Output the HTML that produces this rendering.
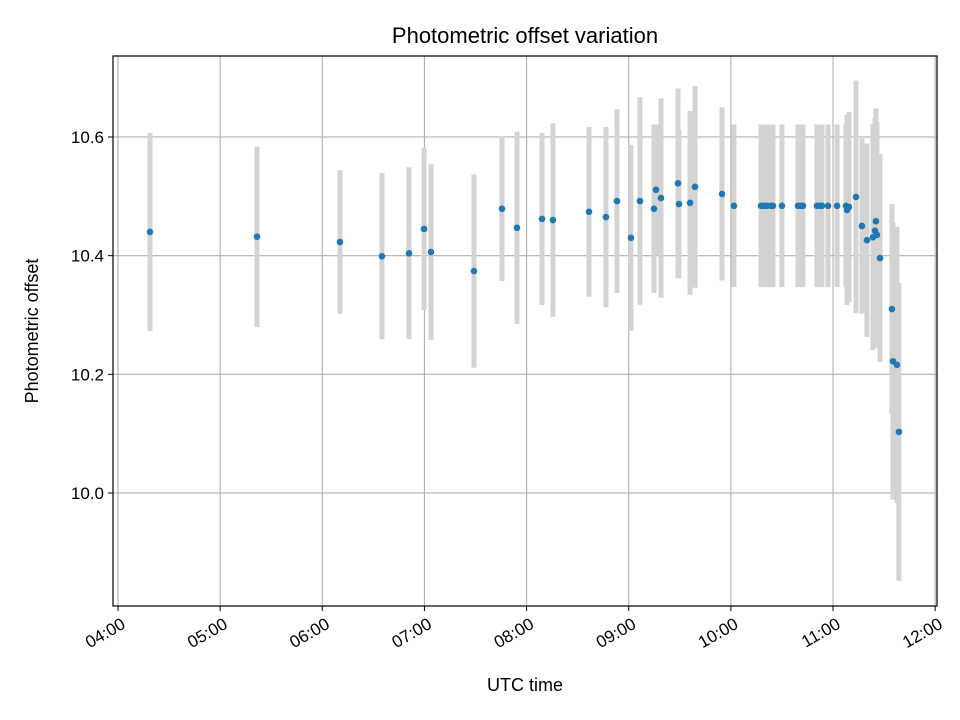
<!DOCTYPE html>
<html><head><meta charset="utf-8"><style>
body{margin:0;background:#fff;}
svg{display:block;font-family:"Liberation Sans","DejaVu Sans",sans-serif;}
</style></head><body>
<svg id="chart" width="960" height="720" viewBox="0 0 960 720" xmlns="http://www.w3.org/2000/svg">
<rect width="960" height="720" fill="#fff"/>
<text x="525" y="43" text-anchor="middle" font-size="22">Photometric offset variation</text>
<text x="525" y="691" text-anchor="middle" font-size="18">UTC time</text>
<text transform="translate(38,331) rotate(-90)" text-anchor="middle" font-size="18">Photometric offset</text>
<g id="grid"></g><g id="bars"></g><g id="pts"></g><g id="ticks"></g>
<rect x="113" y="56" width="824" height="550" fill="none" stroke="#000" stroke-width="1.2"/>
</svg>
<script>
const times=[4.313,5.361,6.173,6.584,6.849,6.996,7.064,7.485,7.759,7.906,8.151,8.258,8.611,8.777,8.885,9.022,9.110,9.247,9.267,9.316,9.482,9.492,9.600,9.649,9.913,10.030,
10.295,10.324,10.353,10.392,10.412,10.500,10.657,10.686,10.706,10.843,10.872,10.892,10.951,11.040,11.127,
11.137,11.156,11.225,11.283,11.332,11.391,11.420,11.411,11.430,11.460,11.577,11.587,11.626,11.645];
const offsets=[10.440,10.432,10.423,10.399,10.404,10.445,10.406,10.374,10.479,10.447,10.462,10.460,10.474,10.465,10.492,10.430,10.492,10.479,10.511,10.497,10.522,10.487,10.489,10.516,10.504,10.484,
10.484,10.484,10.484,10.484,10.484,10.484,10.484,10.484,10.484,10.484,10.484,10.484,10.484,10.484,10.484,
10.477,10.482,10.499,10.450,10.426,10.431,10.458,10.442,10.435,10.396,10.310,10.222,10.216,10.103];
const errors=[0.167,0.152,0.121,0.140,0.145,0.137,0.148,0.163,0.122,0.162,0.145,0.163,0.143,0.152,0.155,0.157,0.175,0.142,0.11,0.168,0.16,0.125,0.155,0.170,0.146,0.137,
0.137,0.137,0.137,0.137,0.137,0.137,0.137,0.137,0.137,0.137,0.137,0.137,0.137,0.137,0.137,
0.16,0.16,0.196,0.148,0.163,0.19,0.19,0.19,0.19,0.175,0.177,0.233,0.233,0.251];
const yTicks=[10.0,10.2,10.4,10.6];
const xTicks=[4,5,6,7,8,9,10,11,12];
const xTickLabels=["04:00","05:00","06:00","07:00","08:00","09:00","10:00","11:00","12:00"];
const NS="http://www.w3.org/2000/svg";
const X0=113,X1=937,Y0=56,Y1=606,xmin=3.951,xmax=12.018,ymin=9.8095,ymax=10.7365;
const xs=v=>X0+(v-xmin)/(xmax-xmin)*(X1-X0);
const ys=v=>Y1-(v-ymin)/(ymax-ymin)*(Y1-Y0);
function mk(tag,attrs,parent){const e=document.createElementNS(NS,tag);for(const k in attrs)e.setAttribute(k,attrs[k]);document.getElementById(parent).appendChild(e);return e;}
xTicks.forEach((t,i)=>{const x=xs(t);
 const g=mk('line',{x1:x,x2:x,y1:Y0,y2:Y1,stroke:'#b0b0b0','stroke-width':1.1},'grid');
 
 
 const tk=mk('line',{x1:x,x2:x,y1:Y1,y2:Y1+5,stroke:'#000','stroke-width':1},'ticks');
 
 
 const ax=x+2, ay=Y1+10;
 const tx=mk('text',{x:ax,y:ay+13,'text-anchor':'end','font-size':17,transform:`rotate(-30 ${ax} ${ay})`},'ticks');
 tx.textContent=xTickLabels[i];
 
 
});
yTicks.forEach(t=>{const y=ys(t);
 const g=mk('line',{x1:X0,x2:X1,y1:y,y2:y,stroke:'#b0b0b0','stroke-width':1.1},'grid');
 
 
 const tk=mk('line',{x1:X0-5,x2:X0,y1:y,y2:y,stroke:'#000','stroke-width':1},'ticks');
 
 
 const tx=mk('text',{x:X0-9,y:y+6,'text-anchor':'end','font-size':17},'ticks');
 tx.textContent=t.toFixed(1);
 
 
});
times.forEach((t,i)=>{const x=xs(t);
 const b=mk('line',{x1:x,x2:x,y1:ys(offsets[i]+errors[i]),y2:ys(offsets[i]-errors[i]),stroke:'#d3d3d3','stroke-width':5},'bars');
 
 
});
times.forEach((t,i)=>{
 const c=mk('circle',{cx:xs(t),cy:ys(offsets[i]),r:3.3,fill:'#1f77b4'},'pts');
 
 
});
</script>
</body></html>
